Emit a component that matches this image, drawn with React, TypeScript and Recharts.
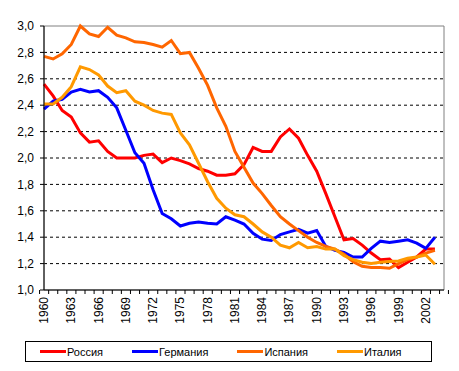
import { LineChart, Line, XAxis, YAxis, CartesianGrid, ReferenceArea } from "recharts";

const years = Array.from({ length: 45 }, (_, i) => 1960 + i);

const russia = [
  2.56, 2.47, 2.36, 2.31, 2.19, 2.12, 2.13, 2.05, 2.0, 2.0,
  2.0, 2.02, 2.03, 1.965, 2.0, 1.98, 1.955, 1.92, 1.9, 1.87,
  1.87, 1.88, 1.95, 2.08, 2.05, 2.05, 2.16, 2.22, 2.15, 2.02,
  1.9, 1.73, 1.555, 1.38, 1.39, 1.34, 1.28, 1.23, 1.235, 1.17,
  1.21, 1.25, 1.31, 1.31,
];

const germany = [
  2.37, 2.43, 2.445, 2.5, 2.52, 2.5, 2.51, 2.46, 2.38, 2.21,
  2.04, 1.96, 1.76, 1.58, 1.54, 1.485, 1.505, 1.515, 1.505, 1.5,
  1.555, 1.53, 1.5, 1.43, 1.385, 1.375, 1.42, 1.44, 1.46, 1.43,
  1.45, 1.33, 1.3, 1.285, 1.25, 1.25, 1.315, 1.37, 1.36, 1.37,
  1.38, 1.355, 1.315, 1.4,
];

const spain = [
  2.77, 2.75, 2.79, 2.86, 3.0, 2.94, 2.92, 2.99, 2.93, 2.91,
  2.88, 2.875, 2.86, 2.84, 2.89, 2.79, 2.8, 2.68, 2.55, 2.38,
  2.24, 2.05, 1.93, 1.81, 1.73, 1.64, 1.555, 1.5, 1.45, 1.4,
  1.36, 1.33, 1.31, 1.27, 1.215, 1.18, 1.17, 1.17, 1.165, 1.2,
  1.23, 1.25, 1.28, 1.3,
];

const italy = [
  2.41, 2.41, 2.46, 2.54, 2.69, 2.67, 2.63, 2.545, 2.495, 2.51,
  2.43, 2.4, 2.36, 2.34, 2.33, 2.19, 2.1, 1.96, 1.82, 1.695,
  1.62, 1.57, 1.555, 1.5, 1.44, 1.4, 1.34, 1.32, 1.36, 1.32,
  1.33, 1.31, 1.31, 1.26, 1.23, 1.21, 1.2, 1.21, 1.215, 1.22,
  1.24, 1.25, 1.265, 1.195,
];

const yTicks = [1, 1.2, 1.4, 1.6, 1.8, 2, 2.2, 2.4, 2.6, 2.8, 3];

const series = [
  { key: "russia", name: "Россия", color: "#FF0000", values: russia },
  { key: "germany", name: "Германия", color: "#0000FF", values: germany },
  { key: "spain", name: "Испания", color: "#FF6600", values: spain },
  { key: "italy", name: "Италия", color: "#FF9900", values: italy },
];

const data = years.map((year, i) => {
  const row: Record<string, number | undefined> = { year };
  series.forEach((s) => {
    row[s.key] = s.values[i];
  });
  return row;
});

const FONT = "'Liberation Sans', Arial, sans-serif";
const PLOT_W = 400;
const band = PLOT_W / years.length;

const YearTick = (props: any) => {
  const { x, y, payload, index } = props;
  const left = x - band / 2;
  const showLabel = index % 3 === 0;
  return (
    <g>
      <line x1={left} y1={y} x2={left} y2={y + 4} stroke="#000" />
      {index === years.length - 1 && (
        <line x1={x + band / 2} y1={y} x2={x + band / 2} y2={y + 4} stroke="#000" />
      )}
      {showLabel && (
        <text
          x={x}
          y={y + 7}
          transform={`rotate(-90, ${x}, ${y + 7})`}
          textAnchor="end"
          dominantBaseline="central"
          fontSize={12}
          fontFamily={FONT}
          fill="#000"
        >
          {payload.value}
        </text>
      )}
    </g>
  );
};

const LegendBox = () => (
  <div
    style={{
      position: "absolute",
      left: 25,
      top: 341,
      width: 391,
      height: 19,
      border: "1px solid #000",
      display: "flex",
      alignItems: "center",
      paddingLeft: 14,
      boxSizing: "content-box",
      fontFamily: FONT,
      fontSize: 11,
      gap: 29,
    }}
  >
    {series.map((s) => (
      <div key={s.key} style={{ display: "flex", alignItems: "center" }}>
        <span style={{ display: "inline-block", width: 26, height: 3, background: s.color, marginRight: 1 }} />
        <span>{s.name}</span>
      </div>
    ))}
  </div>
);

export default function App() {
  return (
    <div style={{ position: "absolute", left: 0, top: 0, width: 459, height: 371, background: "#fff" }}>
      <LineChart
        width={459}
        height={371}
        data={data}
        margin={{ top: 26, right: 15, left: 0, bottom: 41 }}
      >
        <CartesianGrid
          vertical={false}
          horizontalValues={[1.2, 1.4, 1.6, 1.8, 2, 2.2, 2.4, 2.6, 2.8]}
          stroke="#000"
          strokeDasharray="3 3"
        />
        <ReferenceArea y1={1} y2={3} fill="none" stroke="#808080" strokeWidth={1} />
        <XAxis
          dataKey="year"
          interval={0}
          height={40}
          tickSize={0}
          tickMargin={0}
          tickLine={false}
          axisLine={{ stroke: "#000" }}
          tick={<YearTick />}
        />
        <YAxis
          type="number"
          domain={[1, 3]}
          ticks={yTicks}
          width={44}
          tickSize={4}
          tickMargin={6}
          tickLine={{ stroke: "#000" }}
          axisLine={{ stroke: "#000" }}
          tick={{ fill: "#000", fontSize: 12, fontFamily: FONT }}
          tickFormatter={(v: number) => v.toFixed(1).replace(".", ",")}
        />
        {series.map((s) => (
          <Line
            key={s.key}
            type="linear"
            dataKey={s.key}
            name={s.name}
            stroke={s.color}
            strokeWidth={3}
            dot={false}
            isAnimationActive={false}
          />
        ))}
      </LineChart>
      <LegendBox />
    </div>
  );
}
